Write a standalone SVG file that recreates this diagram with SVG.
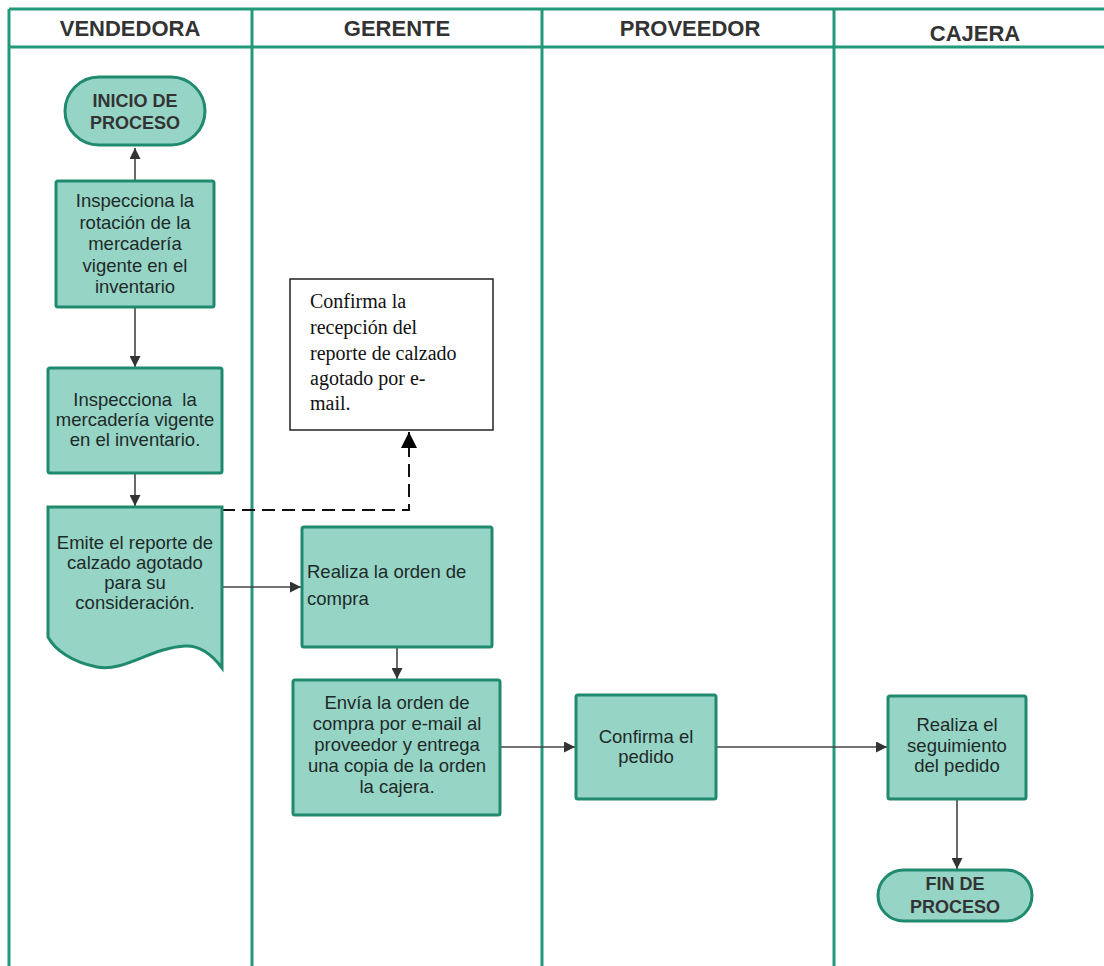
<svg xmlns="http://www.w3.org/2000/svg" width="1104" height="966" viewBox="0 0 1104 966">
<style>
.lane{stroke:#23987a;stroke-width:3;fill:none}
.hdr{font-family:"Liberation Sans",Arial,sans-serif;font-weight:bold;font-size:22px;fill:#333;text-anchor:middle}
.box{fill:#96d4c6;stroke:#208a6e;stroke-width:3}
.t{font-family:"Liberation Sans",Arial,sans-serif;font-size:18.5px;fill:#1e2a28;text-anchor:middle}
.tl{font-family:"Liberation Sans",Arial,sans-serif;font-size:18.5px;fill:#1e2a28}
.tb{font-family:"Liberation Sans",Arial,sans-serif;font-size:18px;font-weight:bold;fill:#333;text-anchor:middle}
.ts{font-family:"Liberation Serif","Times New Roman",serif;font-size:20px;fill:#111}
.conn{stroke:#444;stroke-width:1.6;fill:none}
.dash{stroke:#111;stroke-width:2;fill:none;stroke-dasharray:13 7}
</style>
<defs>
<marker id="ah" markerUnits="userSpaceOnUse" markerWidth="11" markerHeight="11" refX="11" refY="5.5" orient="auto">
<path d="M0,0 L11,5.5 L0,11 z" fill="#333"/>
</marker>
<marker id="ahb" markerUnits="userSpaceOnUse" markerWidth="16" markerHeight="16" refX="16" refY="8" orient="auto">
<path d="M0,0 L16,8 L0,16 z" fill="#000"/>
</marker>
</defs>
<rect width="1104" height="966" fill="#fff"/>
<g id="lanes">
<line class="lane" x1="9" y1="9" x2="1104" y2="9"/>
<line class="lane" x1="9" y1="47" x2="1104" y2="47"/>
<line class="lane" x1="9" y1="9" x2="9" y2="966"/>
<line class="lane" x1="252" y1="9" x2="252" y2="966"/>
<line class="lane" x1="542" y1="9" x2="542" y2="966"/>
<line class="lane" x1="834" y1="9" x2="834" y2="966"/>
<text class="hdr" x="130" y="36">VENDEDORA</text>
<text class="hdr" x="397" y="36">GERENTE</text>
<text class="hdr" x="690" y="36">PROVEEDOR</text>
<text class="hdr" x="975" y="41">CAJERA</text>
</g>
<g id="connectors">
<line class="conn" x1="135" y1="181" x2="135" y2="148" marker-end="url(#ah)"/>
<line class="conn" x1="135" y1="307" x2="135" y2="367" marker-end="url(#ah)"/>
<line class="conn" x1="135" y1="473" x2="135" y2="506" marker-end="url(#ah)"/>
<line class="conn" x1="222" y1="587" x2="301" y2="587" marker-end="url(#ah)"/>
<line class="conn" x1="397" y1="647" x2="397" y2="679" marker-end="url(#ah)"/>
<line class="conn" x1="500" y1="747" x2="575" y2="747" marker-end="url(#ah)"/>
<line class="conn" x1="716" y1="747" x2="887" y2="747" marker-end="url(#ah)"/>
<line class="conn" x1="957" y1="799" x2="957" y2="869" marker-end="url(#ah)"/>
<path class="dash" d="M222,510 H409 V432" marker-end="url(#ahb)"/>
</g>
<g id="inicio">
<rect class="box" x="65" y="77" width="140" height="68" rx="34"/>
<text class="tb" x="135" y="107">INICIO DE</text>
<text class="tb" x="135" y="129">PROCESO</text>
</g>
<g id="inspecciona1">
<rect class="box" x="56" y="181" width="158" height="126" rx="2"/>
<text class="t" x="135" y="207">Inspecciona la</text>
<text class="t" x="135" y="228.5">rotación de la</text>
<text class="t" x="135" y="250">mercadería</text>
<text class="t" x="135" y="271.5">vigente en el</text>
<text class="t" x="135" y="293">inventario</text>
</g>
<g id="inspecciona2">
<rect class="box" x="48" y="368" width="174" height="105" rx="2"/>
<text class="t" x="135" y="406" style="white-space:pre">Inspecciona  la</text>
<text class="t" x="135" y="426">mercadería vigente</text>
<text class="t" x="135" y="446">en el inventario.</text>
</g>
<g id="emite">
<path class="box" d="M48,507 H222 V668 Q205,645 185,646 C150,648 125,672 97,667 C72,662 55,650 48,637 Z"/>
<text class="t" x="135" y="549">Emite el reporte de</text>
<text class="t" x="135" y="569">calzado agotado</text>
<text class="t" x="135" y="589">para su</text>
<text class="t" x="135" y="609">consideración.</text>
</g>
<g id="nota">
<rect x="290" y="279" width="203" height="151" fill="#fff" stroke="#222" stroke-width="1.5"/>
<text class="ts" x="310" y="308">Confirma la</text>
<text class="ts" x="310" y="334">recepción del</text>
<text class="ts" x="310" y="360">reporte de calzado</text>
<text class="ts" x="310" y="385">agotado por e-</text>
<text class="ts" x="310" y="410">mail.</text>
</g>
<g id="realiza-orden">
<rect class="box" x="302" y="527" width="190" height="120" rx="2"/>
<text class="tl" x="307" y="578">Realiza la orden de</text>
<text class="tl" x="307" y="605">compra</text>
</g>
<g id="envia">
<rect class="box" x="293" y="680" width="207" height="135" rx="2"/>
<text class="t" x="397" y="709">Envía la orden de</text>
<text class="t" x="397" y="730">compra por e-mail al</text>
<text class="t" x="397" y="751">proveedor y entrega</text>
<text class="t" x="397" y="772">una copia de la orden</text>
<text class="t" x="397" y="793">la cajera.</text>
</g>
<g id="confirma-pedido">
<rect class="box" x="576" y="695" width="140" height="104" rx="2"/>
<text class="t" x="646" y="743">Confirma el</text>
<text class="t" x="646" y="763">pedido</text>
</g>
<g id="seguimiento">
<rect class="box" x="888" y="696" width="138" height="103" rx="2"/>
<text class="t" x="957" y="731">Realiza el</text>
<text class="t" x="957" y="752">seguimiento</text>
<text class="t" x="957" y="772">del pedido</text>
</g>
<g id="fin">
<rect class="box" x="878" y="870" width="154" height="51" rx="25.5"/>
<text class="tb" x="955" y="890">FIN DE</text>
<text class="tb" x="955" y="913">PROCESO</text>
</g>
</svg>
